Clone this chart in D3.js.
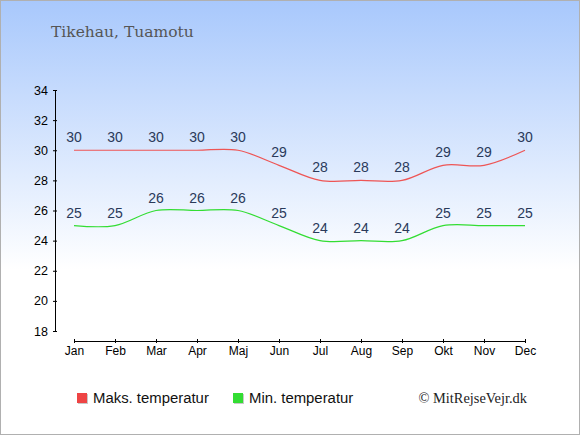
<!DOCTYPE html>
<html>
<head>
<meta charset="utf-8">
<script src="https://cdn.jsdelivr.net/npm/d3@7"></script>
<style>
  body { margin: 0; }
  svg { display: block; }
</style>
</head>
<body>
<svg id="chart"></svg>
<script>
const months = ["Jan", "Feb", "Mar", "Apr", "Maj", "Jun", "Jul", "Aug", "Sep", "Okt", "Nov", "Dec"];
const maxTemp = [30, 30, 30, 30, 30, 29, 28, 28, 28, 29, 29, 30];
const minTemp = [25, 25, 26, 26, 26, 25, 24, 24, 24, 25, 25, 25];
const yTicks = [18, 20, 22, 24, 26, 28, 30, 32, 34];

const width = 580;
const height = 435;

let svg = d3.select("#chart").attr("width", width).attr("height", height);

// baggrund
let defs = svg.append("defs");
let grad = defs.append("linearGradient")
    .attr("id", "bg")
    .attr("x1", 0).attr("y1", 0).attr("x2", 0).attr("y2", 1);
grad.append("stop").attr("offset", "0%").attr("stop-color", "#a8c8fc");
grad.append("stop").attr("offset", "62%").attr("stop-color", "#ffffff");
grad.append("stop").attr("offset", "100%").attr("stop-color", "#ffffff");

svg.append("rect")
    .attr("x", 0.5).attr("y", 0.5)
    .attr("width", width - 1).attr("height", height - 1)
    .attr("fill", "url(#bg)")
    .attr("stroke", "#b0b0b0");

svg.append("text")
    .attr("x", 51).attr("y", 37)
    .attr("font-family", "DejaVu Serif, Liberation Serif, serif")
    .attr("font-size", 15.5)
    .attr("fill", "#555")
    .text("Tikehau, Tuamotu");

// skalaer
let scX = d3.scalePoint().domain(months).range([74, 525]);
let scY = d3.scaleLinear().domain([18, 34]).range([331, 90]);

let axisX = d3.axisBottom(scX).tickSizeOuter(0).tickSize(2);
let gx = svg.append("g")
    .attr("transform", "translate(0, 341)")
    .call(axisX);
gx.select(".domain").attr("stroke", "#000");
gx.selectAll(".tick line").attr("y1", -2).attr("y2", 2);
gx.selectAll("text")
    .attr("font-family", "Liberation Sans, Arial, sans-serif")
    .attr("font-size", 12)
    .attr("fill", "#000")
    .attr("y", 5)
    .attr("dy", "0.71em");

let axisY = d3.axisLeft(scY).tickValues(yTicks).tickSizeOuter(0).tickSize(2);
let gy = svg.append("g")
    .attr("transform", "translate(55, 0)")
    .call(axisY);
gy.selectAll(".tick line").attr("x1", -2).attr("x2", 2);
gy.selectAll("text")
    .attr("font-family", "Liberation Sans, Arial, sans-serif")
    .attr("font-size", 12.5)
    .attr("fill", "#000")
    .attr("x", -7);

// linjer
let line = d3.line()
    .x((d, i) => scX(months[i]))
    .y(d => scY(d))
    .curve(d3.curveCatmullRom.alpha(0.5));

function drawSeries(data, color) {
    svg.append("path")
        .datum(data)
        .attr("fill", "none")
        .attr("stroke", color)
        .attr("stroke-width", 1.2)
        .attr("d", line);

    svg.selectAll(null)
        .data(data)
        .enter()
        .append("text")
        .attr("x", (d, i) => scX(months[i]))
        .attr("y", d => scY(d) - 8)
        .attr("text-anchor", "middle")
        .attr("font-family", "Liberation Sans, Arial, sans-serif")
        .attr("font-size", 14)
        .attr("fill", "#2a3a5a")
        .text(d => d);
}

drawSeries(maxTemp, "#ee5555");
drawSeries(minTemp, "#33dd33");

// legende
let legend = [
    { label: "Maks. temperatur", color: "#ee4444", x: 77 },
    { label: "Min. temperatur", color: "#33dd33", x: 233 }
];
legend.forEach(item => {
    svg.append("rect")
        .attr("x", item.x + 1).attr("y", 394)
        .attr("width", 10).attr("height", 10)
        .attr("fill", "#c8c8c8");
    svg.append("rect")
        .attr("x", item.x).attr("y", 393)
        .attr("width", 10).attr("height", 10)
        .attr("fill", item.color);
    svg.append("text")
        .attr("x", item.x + 16).attr("y", 403)
        .attr("font-family", "Liberation Sans, Arial, sans-serif")
        .attr("font-size", 14.9)
        .attr("fill", "#111")
        .text(item.label);
});

svg.append("text")
    .attr("x", 527).attr("y", 403)
    .attr("text-anchor", "end")
    .attr("font-family", "Liberation Serif, DejaVu Serif, serif")
    .attr("font-size", 14.4)
    .attr("fill", "#222")
    .text("© MitRejseVejr.dk");
</script>
</body>
</html>
